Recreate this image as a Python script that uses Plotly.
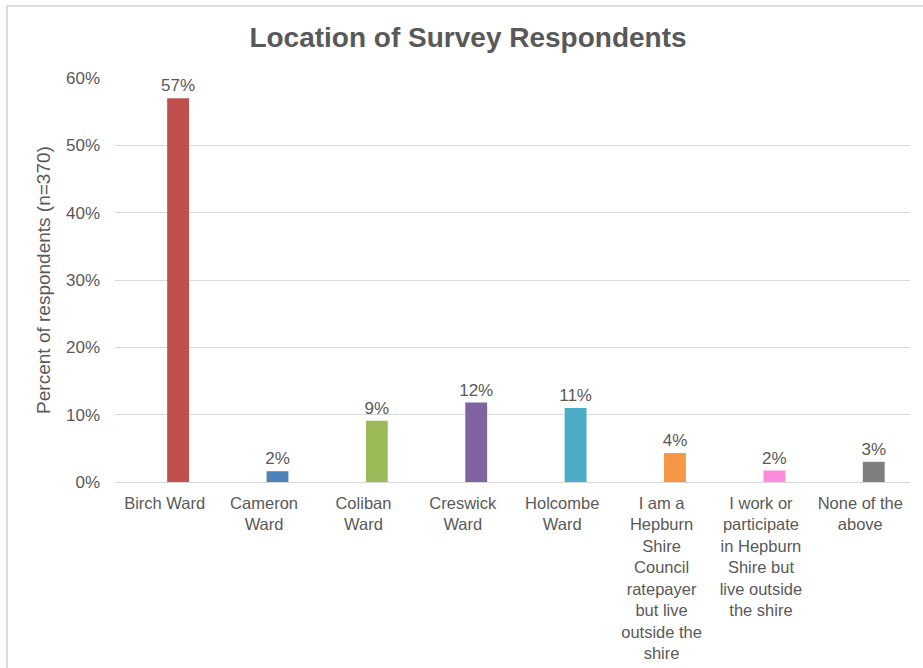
import plotly.graph_objects as go

categories = [
    "Birch Ward",
    "Cameron<br>Ward",
    "Coliban<br>Ward",
    "Creswick<br>Ward",
    "Holcombe<br>Ward",
    "I am a<br>Hepburn<br>Shire<br>Council<br>ratepayer<br>but live<br>outside the<br>shire",
    "I work or<br>participate<br>in Hepburn<br>Shire but<br>live outside<br>the shire",
    "None of the<br>above",
]
percent_values = [57.0, 1.6, 9.1, 11.8, 11.0, 4.3, 1.7, 3.0]
bar_colors = ["#C0504D", "#4F81BD", "#9BBB59", "#8064A2", "#4BACC6", "#F79646", "#FF89DB", "#7F7F7F"]
y_ticks = [0, 10, 20, 30, 40, 50, 60]
y_tick_labels = ["0%", "10%", "20%", "30%", "40%", "50%", "60%"]

FONT = "Arial, 'Liberation Sans', sans-serif"
GRAY = "#595959"

fig = go.Figure(
    go.Bar(
        x=categories,
        y=percent_values,
        marker=dict(color=bar_colors, line=dict(width=0)),
        width=0.22,
        offset=0.025,
        texttemplate="%{y:.0f}%",
        textposition="outside",
        constraintext="none",
        textfont=dict(family=FONT, size=17, color=GRAY),
        cliponaxis=False,
        hoverinfo="skip",
    )
)

fig.update_layout(
    width=923,
    height=668,
    margin=dict(l=115, r=13, t=78, b=186, autoexpand=False),
    paper_bgcolor="white",
    plot_bgcolor="white",
    showlegend=False,
    title=dict(
        text="<b>Location of Survey Respondents</b>",
        font=dict(family=FONT, size=28, color=GRAY),
        x=468 / 923,
        xref="container",
        xanchor="center",
        y=1 - 37 / 668,
        yref="container",
        yanchor="middle",
    ),
    font=dict(family=FONT, color=GRAY),
    shapes=[
        dict(
            type="rect", xref="paper", yref="paper",
            x0=(7 - 115) / 795, x1=2.0,
            y0=-2.0, y1=(482 - 6) / 404,
            line=dict(color="#DDDDDD", width=2),
            fillcolor="rgba(0,0,0,0)",
            layer="below",
        )
    ],
)

fig.update_xaxes(
    automargin=False,
    showgrid=False,
    showline=True,
    linecolor="#D9D9D9",
    linewidth=1,
    ticks="",
    tickangle=0,
    tickfont=dict(family=FONT, size=16.5, color=GRAY),
    ticklabelstandoff=6,
)

fig.update_yaxes(
    automargin=False,
    range=[0, 60],
    tickmode="array",
    tickvals=y_ticks,
    ticktext=y_tick_labels,
    showgrid=True,
    gridcolor="#D9D9D9",
    gridwidth=1,
    zeroline=False,
    showline=False,
    ticks="",
    tickfont=dict(family=FONT, size=17, color=GRAY),
    ticklabelstandoff=14,
    title=dict(
        text="Percent of respondents (n=370)",
        font=dict(family=FONT, size=19, color=GRAY),
        standoff=10,
    ),
)

fig.write_html(
    "out.html",
    config={"displayModeBar": False},
    post_script="document.body.style.margin='0';document.body.style.overflow='hidden';",
)
